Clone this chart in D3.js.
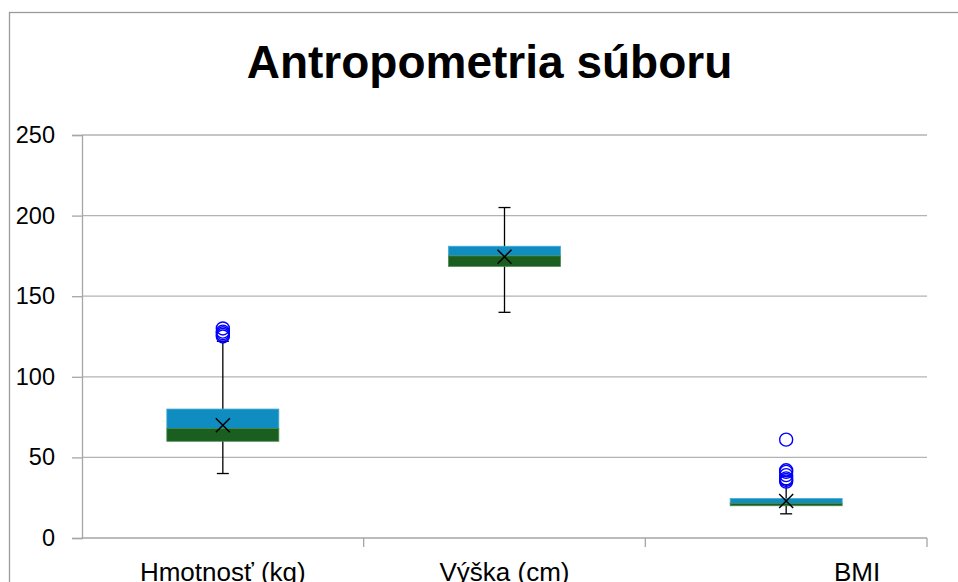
<!DOCTYPE html>
<html><head><meta charset="utf-8">
<script src="https://cdn.jsdelivr.net/npm/d3@7"></script>
<style>body{margin:0;background:#fff}svg{display:block}</style>
</head><body>
<svg id="c" width="958" height="582"></svg>
<script>
const categories = ["Hmotnosť (kg)", "Výška (cm)", "BMI"];
const q1 = [60, 168.5, 20];
const median = [68, 175, 21.5];
const q3 = [80, 181, 24.5];
const whiskerLow = [40, 140, 15];
const whiskerHigh = [122, 205, 33];
const means = [70, 174.5, 23];
const outliers = [[125, 126, 127, 128, 130], [], [61, 42, 41, 39, 37, 36, 35]];
const yTicks = [0, 50, 100, 150, 200, 250];

const svg = d3.select("#c");
const L = 82, R = 927, T = 135, B = 538;
const y = d3.scaleLinear().domain([0, 250]).range([B, T]);
const x = d3.scaleBand().domain(categories).range([L, R]);

// chart border
svg.append("rect").attr("x", 9.5).attr("y", 12.5).attr("width", 1000).attr("height", 1000)
  .attr("fill", "none").attr("stroke", "#9a9a9a").attr("stroke-width", 1.3);

// title
svg.append("text").attr("x", 489.5).attr("y", 78).attr("text-anchor", "middle")
  .attr("font-family", "Liberation Sans, Arial, sans-serif").attr("font-weight", "bold")
  .attr("font-size", 46).attr("fill", "#000").text("Antropometria súboru");

// gridlines
svg.append("g").selectAll("line").data(yTicks.filter(d => d > 0)).join("line")
  .attr("x1", L).attr("x2", R).attr("y1", d => y(d)).attr("y2", d => y(d))
  .attr("stroke", "#b3b3b3").attr("stroke-width", 1.3);

// y axis
const ya = svg.append("g").attr("transform", `translate(${L},0)`)
  .call(d3.axisLeft(y).tickValues(yTicks).tickSize(10).tickPadding(17));
ya.selectAll("path,line").attr("stroke", "#a6a6a6").attr("stroke-width", 1.3);
ya.selectAll("text").attr("font-family", "Liberation Sans, Arial, sans-serif")
  .attr("font-size", 23.5).attr("fill", "#000");

// x axis
svg.append("line").attr("x1", L).attr("x2", R).attr("y1", B).attr("y2", B)
  .attr("stroke", "#a6a6a6").attr("stroke-width", 1.3);
const bounds = categories.map(c => x(c) + x.bandwidth());
svg.append("g").selectAll("line").data(bounds).join("line")
  .attr("x1", d => d).attr("x2", d => d).attr("y1", B).attr("y2", B + 9)
  .attr("stroke", "#a6a6a6").attr("stroke-width", 1.3);
const labelX = [x(categories[0]) + x.bandwidth() / 2, x(categories[1]) + x.bandwidth() / 2, 857];
svg.append("g").selectAll("text").data(categories).join("text")
  .attr("x", (d, i) => labelX[i]).attr("y", 581).attr("text-anchor", "middle")
  .attr("font-family", "Liberation Sans Narrow, Arial Narrow, sans-serif")
  .attr("font-size", 26).attr("fill", "#000").text(d => d);

// boxes
const bw = 112;
const g = svg.append("g");
categories.forEach((c, i) => {
  const cx = x(c) + x.bandwidth() / 2;
  g.append("line").attr("x1", cx).attr("x2", cx).attr("y1", y(whiskerHigh[i])).attr("y2", y(whiskerLow[i]))
    .attr("stroke", "#000").attr("stroke-width", 1.3);
  [whiskerHigh[i], whiskerLow[i]].forEach(v => {
    g.append("line").attr("x1", cx - 6).attr("x2", cx + 6).attr("y1", y(v)).attr("y2", y(v))
      .attr("stroke", "#000").attr("stroke-width", 1.3);
  });
  g.append("rect").attr("x", cx - bw / 2).attr("width", bw)
    .attr("y", y(q3[i])).attr("height", y(median[i]) - y(q3[i]))
    .attr("fill", "#0f8cc0").attr("stroke", "#49a9d2").attr("stroke-width", 0.8);
  g.append("rect").attr("x", cx - bw / 2).attr("width", bw)
    .attr("y", y(median[i])).attr("height", y(q1[i]) - y(median[i]))
    .attr("fill", "#1a5e20").attr("stroke", "#4a8a50").attr("stroke-width", 0.8);
  const my = y(means[i]), s = 7;
  g.append("path").attr("d", `M${cx - s},${my - s}L${cx + s},${my + s}M${cx - s},${my + s}L${cx + s},${my - s}`)
    .attr("stroke", "#000").attr("stroke-width", 1.5).attr("fill", "none");
  g.selectAll(null).data(outliers[i]).join("circle")
    .attr("cx", cx).attr("cy", d => y(d)).attr("r", 6.5)
    .attr("fill", "none").attr("stroke", "#0000ff").attr("stroke-width", 1.4);
});
</script>
</body></html>
